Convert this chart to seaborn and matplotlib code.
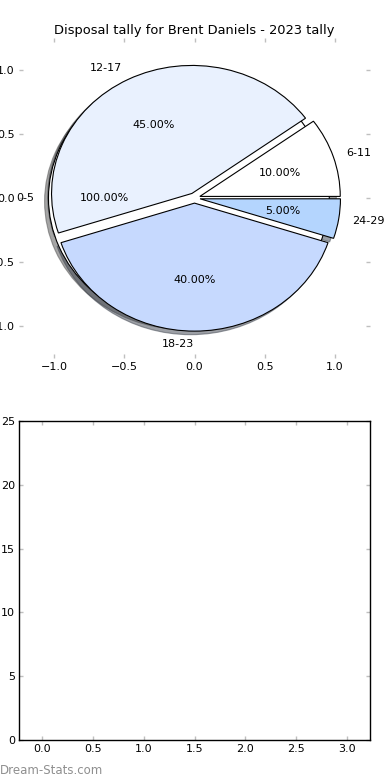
import matplotlib
matplotlib.use("Agg")
import matplotlib.pyplot as plt
import seaborn as sns

# ---- data ----
title = "Disposal tally for Brent Daniels - 2023 tally"
base_label = ["0-5"]
base_frac = [1.0]
bin_labels = ["6-11", "12-17", "18-23", "24-29"]
bin_fracs = [0.10, 0.45, 0.40, 0.05]
bin_colors = ["#ffffff", "#e9f1fe", "#c6d9fe", "#b4d5fe"]
base_color = ["#ffffff"]
pie_ticks = [-1.0, -0.5, 0.0, 0.5, 1.0]
bar_xticks = [0.0, 0.5, 1.0, 1.5, 2.0, 2.5, 3.0]
bar_yticks = [0, 5, 10, 15, 20, 25]
watermark = "Dream-Stats.com"

sns.set_style("white")
plt.rcParams["font.family"] = ["DejaVu Sans"]
plt.rcParams["font.size"] = 8
plt.rcParams["text.color"] = "black"

fig = plt.figure(figsize=(3.9, 7.8), dpi=100)
W, H = 390.0, 780.0
ax1 = fig.add_axes([19.0 / W, (H - 358) / H, 351.0 / W, 320 / H])
ax2 = fig.add_axes([19.0 / W, (H - 740) / H, 351.0 / W, 319 / H])

EXP = 0.04
wp = dict(edgecolor="black", linewidth=0.8)
tp = dict(fontsize=8, color="black")
w0, t0, a0 = ax1.pie(base_frac, explode=[EXP], labels=base_label,
                     colors=base_color, autopct="%1.2f%%", shadow=True,
                     startangle=0, normalize=False, wedgeprops=wp,
                     textprops=tp)
w1, t1, a1 = ax1.pie(bin_fracs, explode=[EXP] * len(bin_fracs),
                     labels=bin_labels, colors=bin_colors, autopct="%1.2f%%",
                     shadow=True, startangle=0, normalize=False,
                     wedgeprops=wp, textprops=tp)
# bottom label sits just left of centre, right-aligned as in the reference
t1[2].set_ha("right")

ax1.set_aspect("auto")
ax1.set_xlim(-1.25, 1.25)
ax1.set_ylim(-1.25, 1.25)
ax1.set_xticks(pie_ticks)
ax1.set_yticks(pie_ticks)
ax1.set_frame_on(False)
ax1.set_title(title, fontsize=9.4, pad=3, color="black")

ax2.set_xlim(-0.225, 3.225)
ax2.set_ylim(0, 25)
ax2.set_xticks(bar_xticks)
ax2.set_yticks(bar_yticks)
for s in ax2.spines.values():
    s.set_color("black")
    s.set_linewidth(1.0)
    s.set_visible(True)

for ax in (ax1, ax2):
    ax.tick_params(direction="in", length=3, width=1, color="#bfbfbf",
                   labelsize=8, labelcolor="black", pad=3,
                   top=True, right=True, bottom=True, left=True)

fig.text(0.0, (H - 770) / H, watermark, fontsize=8.5, color="#8f8f8f",
         ha="left", va="center")

fig.savefig("out.png", dpi=100)
